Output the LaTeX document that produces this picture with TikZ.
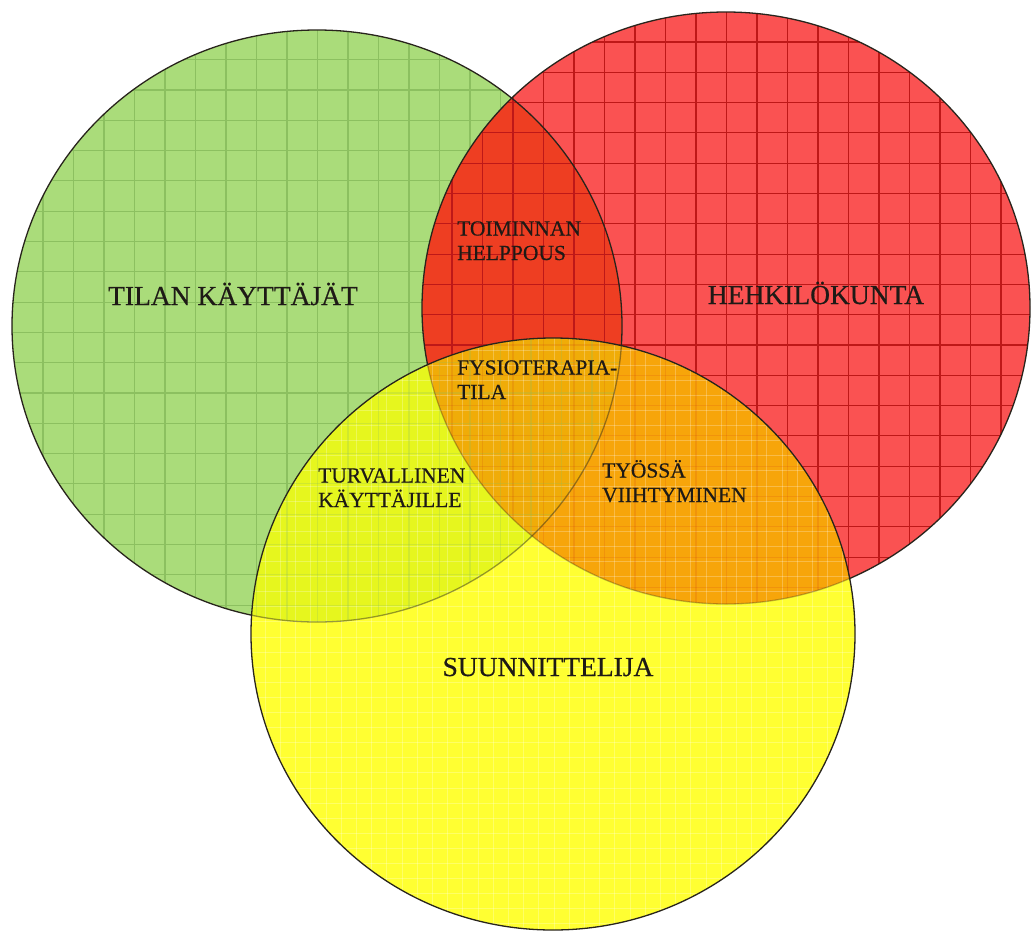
\documentclass[tikz,border=0pt]{standalone}
\usepackage{fontspec}
\setmainfont{Liberation Serif}
\newfontfamily\lblfont[FakeBold=0.5]{Liberation Serif}
\definecolor{gfill}{RGB}{170,220,122}
\definecolor{ggrid}{RGB}{140,192,96}
\definecolor{rfill}{RGB}{250,82,82}
\definecolor{rgrid}{RGB}{190,24,24}
\definecolor{grfill}{RGB}{238,62,34}
\definecolor{yfill}{RGB}{255,255,50}
\definecolor{gyfill}{RGB}{230,246,30}
\definecolor{ryfill}{RGB}{247,165,10}
\definecolor{gryfill}{RGB}{240,172,8}
\definecolor{outl}{RGB}{40,36,28}
\definecolor{txt}{RGB}{30,26,22}
\begin{document}
\begin{tikzpicture}[x=1pt,y=-1pt,
  G/.style={insert path={(317,326) ellipse [x radius=305pt, y radius=296pt]}},
  R/.style={insert path={(726,308) ellipse [x radius=304pt, y radius=296pt]}},
  Y/.style={insert path={(553,634) ellipse [x radius=302pt, y radius=296pt]}},
  gline/.style={draw=ggrid, line width=1.1pt},
  rline/.style={draw=rgrid, line width=1.1pt},
  yline/.style={draw=white, opacity=0.25, line width=1pt},
  outline/.style={draw=outl, line width=1.3pt},
  biglbl/.style={font=\lblfont\fontsize{27.5}{30}\selectfont, text=txt, inner sep=0pt, anchor=base},
  smalllbl/.style={font=\lblfont\fontsize{21.5}{24.5}\selectfont, text=txt, inner sep=0pt, align=left, anchor=base west},
]
\useasboundingbox (0,0) rectangle (1031,930);
\fill[white] (0,0) rectangle (1031,930);
% green circle
\fill[gfill, G];
\begin{scope}
  \clip[G];
  \foreach \i in {0,...,20} \draw[gline] ({12.5+30.5*\i},0) -- ({12.5+30.5*\i},930);
  \foreach \j in {0,...,20} \draw[gline] (0,{29.4+30.3*\j}) -- (1031,{29.4+30.3*\j});
\end{scope}
% red circle
\fill[rfill, R];
\begin{scope}
  \clip[G];
  \fill[grfill, R];
\end{scope}
\begin{scope}
  \clip[R];
  \foreach \i in {0,...,20} \draw[rline] ({421.5+30.5*\i},0) -- ({421.5+30.5*\i},930);
  \foreach \j in {0,...,20} \draw[rline] (0,{11.7+30.3*\j}) -- (1031,{11.7+30.3*\j});
\end{scope}
\path[outline, G];
\path[outline, R];
% yellow circle
\fill[yfill, Y];
\begin{scope}
  \clip[G];
  \fill[gyfill, Y];
\end{scope}
\begin{scope}
  \clip[R];
  \fill[ryfill, Y];
\end{scope}
\begin{scope}
  \clip[G];
  \clip[R];
  \fill[gryfill, Y];
\end{scope}
\begin{scope}
  \clip[Y];
  \foreach \i in {0,...,40} \draw[yline] ({250+15.2*\i},330) -- ({250+15.2*\i},930);
  \foreach \j in {0,...,40} \draw[yline] (250,{335+15.1*\j}) -- (860,{335+15.1*\j});
  \begin{scope}
    \clip[G];
    \foreach \i in {0,...,20} \draw[gline, opacity=0.25] ({12.5+30.5*\i},0) -- ({12.5+30.5*\i},930);
    \foreach \j in {0,...,20} \draw[gline, opacity=0.25] (0,{29.4+30.3*\j}) -- (1031,{29.4+30.3*\j});
  \end{scope}
  \begin{scope}
    \clip[R];
    \foreach \i in {0,...,20} \draw[rline, opacity=0.12] ({421.5+30.5*\i},0) -- ({421.5+30.5*\i},930);
    \foreach \j in {0,...,20} \draw[rline, opacity=0.12] (0,{11.7+30.3*\j}) -- (1031,{11.7+30.3*\j});
  \end{scope}
  \path[outline, G, opacity=0.45];
  \path[outline, R, opacity=0.3];
\end{scope}
\path[outline, Y];
% labels
\node[biglbl] (users) at (233,305) {TILAN KÄYTTÄJÄT};
\node[biglbl] (staff) at (816,304) {HEHKILÖKUNTA};
\node[biglbl] (designer) at (548,676) {SUUNNITTELIJA};
\node[smalllbl] (ease) at (457,260) {TOIMINNAN\\HELPPOUS};
\node[smalllbl] (physio) at (457,399) {FYSIOTERAPIA-\\TILA};
\node[smalllbl] (safe) at (318,507) {TURVALLINEN\\KÄYTTÄJILLE};
\node[smalllbl] (comfort) at (602,502) {TYÖSSÄ\\VIIHTYMINEN};
\end{tikzpicture}
\end{document}
